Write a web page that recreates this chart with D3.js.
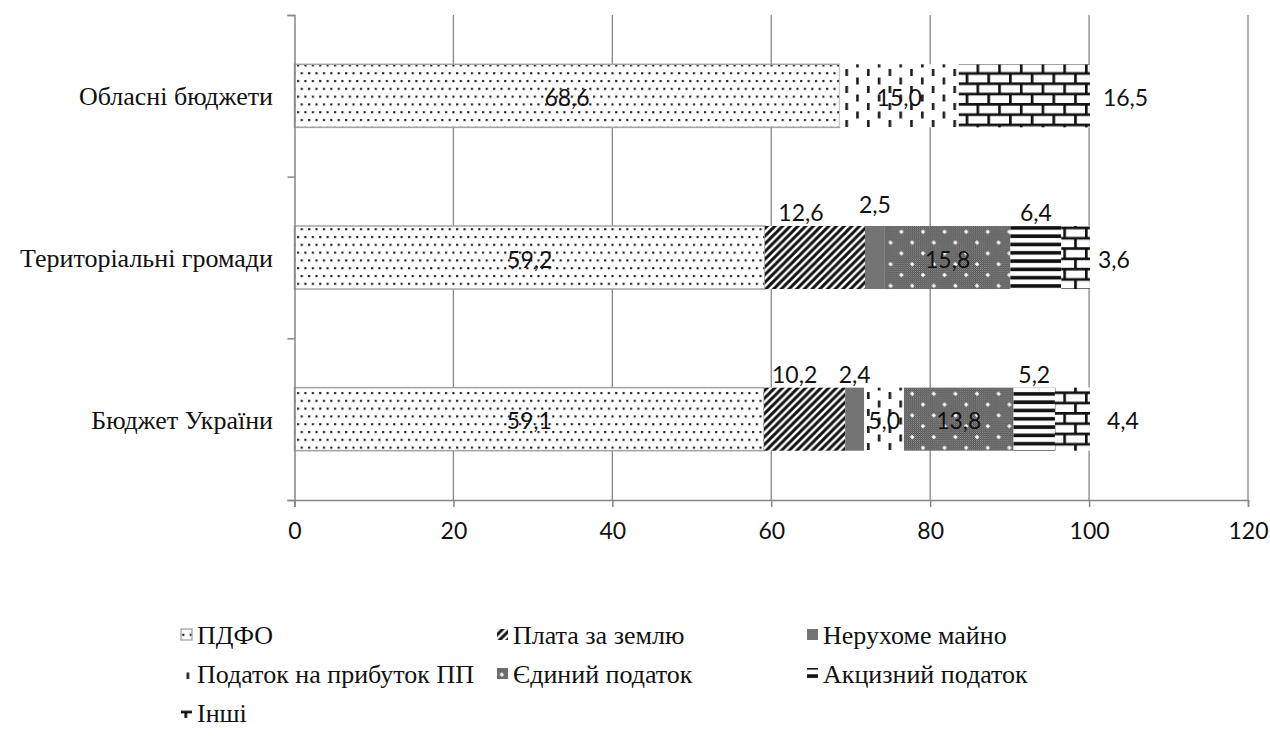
<!DOCTYPE html>
<html>
<head>
<meta charset="utf-8">
<script src="https://cdn.jsdelivr.net/npm/d3@7"></script>
<style>
  body { margin: 0; background: #fff; }
  svg { display: block; }
</style>
</head>
<body>
<svg id="chart" width="1270" height="736"></svg>
<script>
// Structure of tax revenues by budget level, %
const categories = ["Обласні бюджети", "Територіальні громади", "Бюджет України"];
const seriesNames = ["ПДФО", "Плата за землю", "Нерухоме майно", "Податок на прибуток ПП",
                     "Єдиний податок", "Акцизний податок", "Інші"];
const pdfo       = [68.6, 59.2, 59.1];
const land       = [0,    12.6, 10.2];
const property   = [0,    2.5,  2.4];
const profitTax  = [15.0, 0,    5.0];
const singleTax  = [0,    15.8, 13.8];
const excise     = [0,    6.4,  5.2];
const other      = [16.5, 3.6,  4.4];
const xTicks     = [0, 20, 40, 60, 80, 100, 120];

// Where each value label sits: inside the segment, above it, or right of the bar
const labelMode = {
  "ПДФО":                   ["in", "in", "in"],
  "Плата за землю":         ["in", "above", "above"],
  "Нерухоме майно":         ["in", "above", "above"],
  "Податок на прибуток ПП": ["in", "in", "in"],
  "Єдиний податок":         ["in", "in", "in"],
  "Акцизний податок":       ["in", "above", "above"],
  "Інші":                   ["right", "right", "right"]
};
// small hand offsets for individual labels [dx, dy]
const labelNudge = {
  "Плата за землю|1": [-14, 0],
  "Плата за землю|2": [-10, 0],
  "Нерухоме майно|1": [0, -8],
  "Інші|0": [1, 0],
  "Інші|1": [-4, 0],
  "Інші|2": [5, 0]
};

const SERIF = '"Liberation Serif"';
const LEGEND_SERIF = '"Tinos"';
const SANS = '"Lato"';

const patternIds = ["pDots", "pDiag", null, "pDash", "pConfetti", "pHoriz", "pBrick"];
const solidFill = { "Нерухоме майно": "#747474" };

const rows = categories.map((c, i) => ({
  category: c,
  "ПДФО": pdfo[i],
  "Плата за землю": land[i],
  "Нерухоме майно": property[i],
  "Податок на прибуток ПП": profitTax[i],
  "Єдиний податок": singleTax[i],
  "Акцизний податок": excise[i],
  "Інші": other[i]
}));

const svg = d3.select("#chart");
const axisColor = "#878787";

// ---------- fill patterns ----------
const defs = svg.append("defs");

// fine dotted
let p = defs.append("pattern").attr("id", "pDots").attr("patternUnits", "userSpaceOnUse")
  .attr("width", 7.4).attr("height", 15.6);
p.append("rect").attr("width", 7.4).attr("height", 15.6).attr("fill", "#fff");
p.append("rect").attr("x", 1).attr("y", 2).attr("width", 2.1).attr("height", 2.1).attr("fill", "#151515");
p.append("rect").attr("x", 4.7).attr("y", 9.8).attr("width", 2.1).attr("height", 2.1).attr("fill", "#151515");

// wide upward diagonal
p = defs.append("pattern").attr("id", "pDiag").attr("patternUnits", "userSpaceOnUse")
  .attr("width", 7.7).attr("height", 7.7);
p.append("rect").attr("width", 7.7).attr("height", 7.7).attr("fill", "#fff");
p.append("path").attr("d", "M-2,2 L2,-2 M0,7.7 L7.7,0 M5.7,9.7 L9.7,5.7")
  .attr("stroke", "#111").attr("stroke-width", 2.9);

// staggered vertical dashes
p = defs.append("pattern").attr("id", "pDash").attr("patternUnits", "userSpaceOnUse")
  .attr("width", 21.6).attr("height", 17);
p.append("rect").attr("width", 21.6).attr("height", 17).attr("fill", "#fff");
p.append("rect").attr("x", 3).attr("y", 1).attr("width", 2.6).attr("height", 7).attr("fill", "#1a1a1a");
p.append("rect").attr("x", 13.8).attr("y", 9.5).attr("width", 2.6).attr("height", 7).attr("fill", "#1a1a1a");

// checker texture with white sparkles
p = defs.append("pattern").attr("id", "pChk").attr("patternUnits", "userSpaceOnUse")
  .attr("width", 2).attr("height", 2);
p.append("rect").attr("width", 2).attr("height", 2).attr("fill", "#262626");
p.append("rect").attr("width", 1).attr("height", 1).attr("fill", "#b0b0b0");
p.append("rect").attr("x", 1).attr("y", 1).attr("width", 1).attr("height", 1).attr("fill", "#b0b0b0");
p = defs.append("pattern").attr("id", "pConfetti").attr("patternUnits", "userSpaceOnUse")
  .attr("width", 21.6).attr("height", 21.6);
p.append("rect").attr("width", 21.6).attr("height", 21.6).attr("fill", "url(#pChk)");
[[5, 5], [15.8, 15.8]].forEach(([cx, cy]) => {
  p.append("rect").attr("x", cx - 2).attr("y", cy - 0.8).attr("width", 4).attr("height", 1.6).attr("fill", "#fff");
  p.append("rect").attr("x", cx - 0.8).attr("y", cy - 2).attr("width", 1.6).attr("height", 4).attr("fill", "#fff");
});

// wide horizontal stripes
p = defs.append("pattern").attr("id", "pHoriz").attr("patternUnits", "userSpaceOnUse")
  .attr("width", 8).attr("height", 8.3);
p.append("rect").attr("width", 8).attr("height", 8.3).attr("fill", "#fff");
p.append("rect").attr("y", 2).attr("width", 8).attr("height", 3.6).attr("fill", "#111");

// horizontal brick
p = defs.append("pattern").attr("id", "pBrick").attr("patternUnits", "userSpaceOnUse")
  .attr("width", 21.7).attr("height", 20.6);
p.append("rect").attr("width", 21.7).attr("height", 20.6).attr("fill", "#fff");
p.append("path")
  .attr("d", "M0,1.3 H21.7 M0,11.6 H21.7 M1.3,1.3 V11.6 M12.2,11.6 V20.6")
  .attr("stroke", "#111").attr("stroke-width", 2.7).attr("fill", "none");

const fillOf = (i) => patternIds[i] ? `url(#${patternIds[i]})` : solidFill[seriesNames[i]];

// ---------- scales ----------
const x = d3.scaleLinear().domain([0, 120]).range([294.5, 1248]);
const yBand = d3.scaleBand().domain(categories).range([15, 500]).padding(0);
const barH = yBand.bandwidth() * 0.39;
const yEdge = d3.scaleLinear().domain([0, categories.length]).range([15, 500]);

// ---------- category labels ----------
svg.append("g").selectAll("text").data(categories).join("text")
  .attr("x", 273).attr("y", d => yBand(d) + yBand.bandwidth() / 2 + 1)
  .attr("text-anchor", "end").attr("dominant-baseline", "central")
  .style("font-family", SERIF).style("font-size", "26px")
  .attr("fill", "#111").text(d => d);

// ---------- legend ----------
const legCols = [197, 513, 823];
const legRows = [635, 674, 713];
const legItems = seriesNames.map((name, i) => ({ name, i, cx: legCols[i % 3], cy: legRows[Math.floor(i / 3)] }));
const leg = svg.append("g");
leg.selectAll("rect").data(legItems).join("rect")
  .attr("x", d => d.cx - 16).attr("y", d => d.cy - 6).attr("width", 11).attr("height", 11)
  .attr("fill", d => fillOf(d.i))
  .attr("stroke", d => d.i === 0 ? "#9a9a9a" : "none").attr("stroke-width", 1.2);
leg.selectAll("text").data(legItems).join("text")
  .attr("x", d => d.cx).attr("y", d => d.cy + 9)
  .style("font-family", LEGEND_SERIF).style("font-size", "26px")
  .attr("fill", "#111").text(d => d.name);

// ---------- gridlines ----------
svg.append("g").selectAll("line").data(xTicks.filter(d => d > 0)).join("line")
  .attr("x1", d => x(d)).attr("x2", d => x(d))
  .attr("y1", 15).attr("y2", 500)
  .attr("stroke", axisColor).attr("stroke-width", 1.3);

// ---------- stacked bars ----------
const stack = d3.stack().keys(seriesNames)(rows);

stack.forEach((layer, si) => {
  const g = svg.append("g");
  layer.forEach((seg, ci) => {
    if (seg[1] - seg[0] <= 0) return;
    const y0 = yBand(categories[ci]) + (yBand.bandwidth() - barH) / 2;
    g.append("rect")
      .attr("x", x(seg[0])).attr("y", y0)
      .attr("width", x(seg[1]) - x(seg[0])).attr("height", barH)
      .attr("fill", fillOf(si))
      .attr("stroke", si === 0 ? "#a3a3a3" : "none")
      .attr("stroke-width", si === 0 ? 1.5 : 0);
  });
});

// ---------- axes ----------
const xAxis = svg.append("g").attr("transform", "translate(0,500)")
  .call(d3.axisBottom(x).tickValues(xTicks).tickSize(7).tickPadding(16).tickFormat(d3.format("d")));
const yAxis = svg.append("g").attr("transform", "translate(294.5,0)")
  .call(d3.axisLeft(yEdge).tickValues(d3.range(categories.length + 1)).tickSize(7).tickFormat(""));
[xAxis, yAxis].forEach(a => {
  a.select(".domain").attr("stroke", axisColor).attr("stroke-width", 1.5);
  a.selectAll(".tick line").attr("stroke", axisColor).attr("stroke-width", 1.5);
});
xAxis.selectAll(".tick text")
  .style("font-family", SANS).style("font-size", "23px").attr("fill", "#111");

// ---------- value labels ----------
const fmt = v => v.toFixed(1).replace(".", ",");
const lblG = svg.append("g");
stack.forEach((layer, si) => {
  const name = seriesNames[si];
  layer.forEach((seg, ci) => {
    const v = seg[1] - seg[0];
    if (v <= 0) return;
    const mode = labelMode[name][ci];
    const [dx, dy] = labelNudge[name + "|" + ci] || [0, 0];
    const yMid = yBand(categories[ci]) + yBand.bandwidth() / 2;
    const top = yMid - barH / 2;
    let tx = (x(seg[0]) + x(seg[1])) / 2, ty = yMid, anchor = "middle";
    if (mode === "above") ty = top - 15;
    if (mode === "right") { tx = x(seg[1]) + 12; anchor = "start"; }
    lblG.append("text")
      .attr("x", tx + dx).attr("y", ty + dy + 1)
      .attr("text-anchor", anchor).attr("dominant-baseline", "central")
      .style("font-family", SANS).style("font-size", "23px").attr("fill", "#111")
      .text(fmt(v));
  });
});
</script>
</body>
</html>
